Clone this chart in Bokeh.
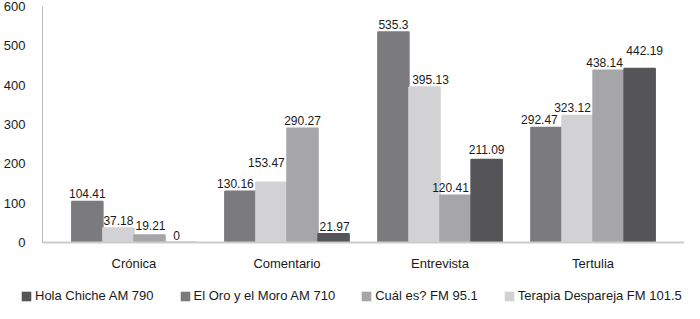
from bokeh.plotting import figure
from bokeh.layouts import column
from bokeh.models import (ColumnDataSource, FactorRange, Range1d, LabelSet,
                          Legend, LegendItem, FixedTicker)
from bokeh.transform import dodge
from bokeh.core.properties import value
from bokeh.embed import file_html
from bokeh.resources import INLINE

# ---- data ----
categories = ["Crónica", "Comentario", "Entrevista", "Tertulia"]
hola_chiche = [0, 21.97, 211.09, 442.19]
el_oro = [104.41, 130.16, 535.3, 292.47]
cual_es = [19.21, 290.27, 120.41, 438.14]
terapia = [37.18, 153.47, 395.13, 323.12]
series_names = ["Hola Chiche AM 790", "El Oro y el Moro AM 710",
                "Cuál es? FM 95.1", "Terapia Despareja FM 101.5"]
y_ticks = [0, 100, 200, 300, 400, 500, 600]

# ---- style: label nudges in px (x, y) per series per category ----
nudge = {
    "oro":     [(0, 0), (-5, 0), (0, 0), (-7, 0)],
    "terapia": [(0, 0), (-5, 12), (6, 0), (-5, 0)],
    "cual":    [(1, 2), (0, 0), (-5, 0), (-4, 0)],
    "hola":    [(-4, 0), (1, 0), (0, 2), (5, 11)],
}

FONT = "Liberation Sans"
data = dict(cat=categories, hola=hola_chiche, oro=el_oro, cual=cual_es,
            terapia=terapia)
for key in ["hola", "oro", "cual", "terapia"]:
    data[key + "_t"] = [f"{v:g}" for v in data[key]]
    data[key + "_dx"] = [n[0] for n in nudge[key]]
    data[key + "_dy"] = [3 + n[1] for n in nudge[key]]
src = ColumnDataSource(data)

p = figure(x_range=FactorRange(*categories, range_padding=0.0488,
                               range_padding_units="percent"),
           y_range=Range1d(0, 600),
           width=684, height=282, output_backend="svg", toolbar_location=None,
           min_border_left=33, min_border_right=0, min_border_top=6,
           min_border_bottom=40)
p.frame_align = False
p.outline_line_color = None
p.xgrid.grid_line_color = None
p.ygrid.grid_line_color = None

bw = 0.203
styles = {
    "oro": ("#7b7b7e", -0.3045),
    "terapia": ("#d2d2d4", -0.1015),
    "cual": ("#a6a6a9", 0.1015),
    "hola": ("#555558", 0.3045),
}
for col, (color, off) in styles.items():
    p.vbar(x=dodge("cat", off, range=p.x_range), top=col, width=bw,
           bottom=0, source=src, fill_color=color, line_color=color,
           line_width=1.5)
    p.add_layout(LabelSet(x=dodge("cat", off, range=p.x_range), y=col,
                          text=col + "_t", source=src, text_align="center",
                          text_baseline="bottom",
                          x_offset=col + "_dx", y_offset=col + "_dy",
                          text_font=value(FONT), text_font_size="12px",
                          text_color="#1a1a1a"))

p.yaxis.ticker = FixedTicker(ticks=y_ticks)
p.yaxis.axis_line_color = "#b8b8b8"
p.yaxis.major_tick_line_color = None
p.yaxis.minor_tick_line_color = None
p.yaxis.major_label_standoff = 11
p.yaxis.major_label_text_font = FONT
p.yaxis.major_label_text_font_size = "13px"
p.yaxis.major_label_text_color = "#1a1a1a"

p.xaxis.axis_line_color = "#cccccc"
p.xaxis.axis_line_width = 2
p.xaxis.major_tick_line_color = None
p.xaxis.minor_tick_line_color = None
p.xaxis.major_label_standoff = 7
p.xaxis.major_label_text_font = FONT
p.xaxis.major_label_text_font_size = "13px"
p.xaxis.major_label_text_color = "#1a1a1a"

# ---- legend strip below the chart (swatch bars lie outside its range) ----
lg = figure(width=684, height=21, output_backend="svg", toolbar_location=None,
            x_axis_location=None, y_axis_location=None,
            x_range=Range1d(0, 1), y_range=Range1d(0, 1),
            min_border=0, outline_line_color=None)
lg.frame_align = False
lg.xgrid.grid_line_color = None
lg.ygrid.grid_line_color = None
order = ["hola", "oro", "cual", "terapia"]
items = []
for name, key in zip(series_names, order):
    color = styles[key][0]
    r = lg.vbar(x=[-10], top=[-10], width=0.5, fill_color=color,
                line_color=None)
    items.append(LegendItem(label=name, renderers=[r]))
legend = Legend(items=items, orientation="horizontal", location=(20, 0),
                glyph_width=12, glyph_height=12, label_standoff=3, spacing=25,
                padding=0, margin=0, label_height=14,
                border_line_color=None, background_fill_alpha=0,
                label_text_font=FONT, label_text_font_size="13px",
                label_text_color="#1a1a1a")
lg.add_layout(legend, "center")

layout = column(p, lg, spacing=0)
open("out.html", "w").write(file_html(layout, INLINE))
